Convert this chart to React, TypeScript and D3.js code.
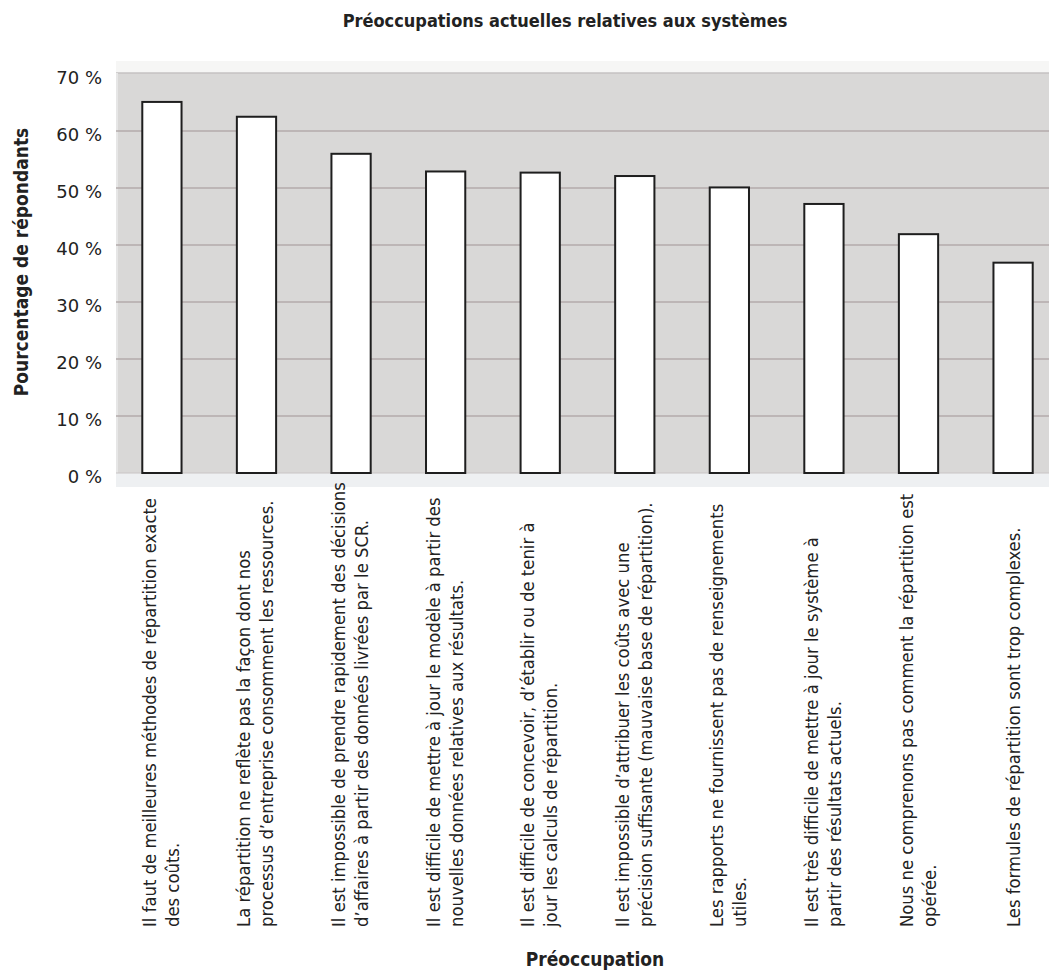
import React from "react";
import * as d3 from "d3";

const title = "Préoccupations actuelles relatives aux systèmes";
const yTitle = "Pourcentage de répondants";
const xTitle = "Préoccupation";

const categories: string[][] = [
  ["Il faut de meilleures méthodes de répartition exacte", "des coûts."],
  ["La répartition ne reflète pas la façon dont nos", "processus d’entreprise consomment les ressources."],
  ["Il est impossible de prendre rapidement des décisions", "d’affaires à partir des données livrées par le SCR."],
  ["Il est difficile de mettre à jour le modèle à partir des", "nouvelles données relatives aux résultats."],
  ["Il est difficile de concevoir, d’établir ou de tenir à", "jour les calculs de répartition."],
  ["Il est impossible d’attribuer les coûts avec une", "précision suffisante (mauvaise base de répartition)."],
  ["Les rapports ne fournissent pas de renseignements", "utiles."],
  ["Il est très difficile de mettre à jour le système à", "partir des résultats actuels."],
  ["Nous ne comprenons pas comment la répartition est", "opérée."],
  ["Les formules de répartition sont trop complexes."],
];

const values: number[] = [65.1, 62.5, 56.0, 52.9, 52.7, 52.1, 50.1, 47.2, 41.9, 36.9];

const yTicks: number[] = [0, 10, 20, 30, 40, 50, 60, 70];

const FONT = "'DejaVu Sans Condensed', 'DejaVu Sans', sans-serif";

export default function App() {
  const W = 1053;
  const H = 974;
  const plotL = 116;
  const plotR = 1049;
  const plotT = 73;
  const y0 = 473;

  const x = d3
    .scaleBand<number>()
    .domain(values.map((_, i) => i))
    .range([116, 1059])
    .paddingInner(0.585)
    .paddingOuter(0.278);

  const y = d3.scaleLinear().domain([0, 70]).range([y0, 74]);

  return (
    <svg width={W} height={H} style={{ display: "block", position: "absolute", left: 0, top: 0 }} fontFamily={FONT}>
      <rect x={0} y={0} width={W} height={H} fill="#ffffff" />
      <text x={565} y={27} textAnchor="middle" fontSize={18} fontWeight="bold" fill="#222">
        {title}
      </text>
      {/* plot background */}
      <rect x={plotL} y={plotT - 12} width={plotR - plotL} height={12} fill="#f6f6f5" />
      <rect x={plotL} y={plotT} width={plotR - plotL} height={y0 - plotT} fill="#d9d8d7" />
      <rect x={plotL} y={y0} width={plotR - plotL} height={14} fill="#eef0f2" />
      <line x1={plotL} x2={plotR} y1={plotT} y2={plotT} stroke="#c4c2c2" strokeWidth={1.5} />
      <line x1={plotL + 1} x2={plotL + 1} y1={plotT} y2={y0} stroke="#e6e6e6" strokeWidth={2} />
      {yTicks.map((t) => (
        <g key={t}>
          {t > 0 && t < 70 && (
            <line x1={plotL} x2={plotR} y1={y(t)} y2={y(t)} stroke="#b3abab" strokeWidth={1.5} />
          )}
          <text
            x={102}
            y={y(t) + 9.5}
            textAnchor="end"
            fontSize={18}
            fontFamily="'DejaVu Sans', sans-serif"
            fill="#222"
          >
            {`${t} %`}
          </text>
        </g>
      ))}
      <line x1={plotL} x2={plotR} y1={y0} y2={y0} stroke="#c8c4c4" strokeWidth={1} />
      {values.map((v, i) => (
        <rect
          key={i}
          x={x(i)}
          y={y(v)}
          width={x.bandwidth()}
          height={y0 - y(v)}
          fill="#ffffff"
          stroke="#1e1e1e"
          strokeWidth={2}
        />
      ))}
      {categories.map((lines, i) => {
        const cx = (x(i) as number) + x.bandwidth() / 2;
        const offs = lines.length === 1 ? [7] : [-6, 17];
        return (
          <g key={i}>
            {lines.map((ln, j) => (
              <text
                key={j}
                transform={`translate(${cx + offs[j]},927) rotate(-90)`}
                fontSize={18.3}
                fill="#222"
              >
                {ln}
              </text>
            ))}
          </g>
        );
      })}
      <text
        transform={`translate(28,262) rotate(-90)`}
        textAnchor="middle"
        fontSize={19}
        fontWeight="bold"
        fill="#222"
      >
        {yTitle}
      </text>
      <text x={595} y={966} textAnchor="middle" fontSize={19} fontWeight="bold" fill="#222">
        {xTitle}
      </text>
    </svg>
  );
}
